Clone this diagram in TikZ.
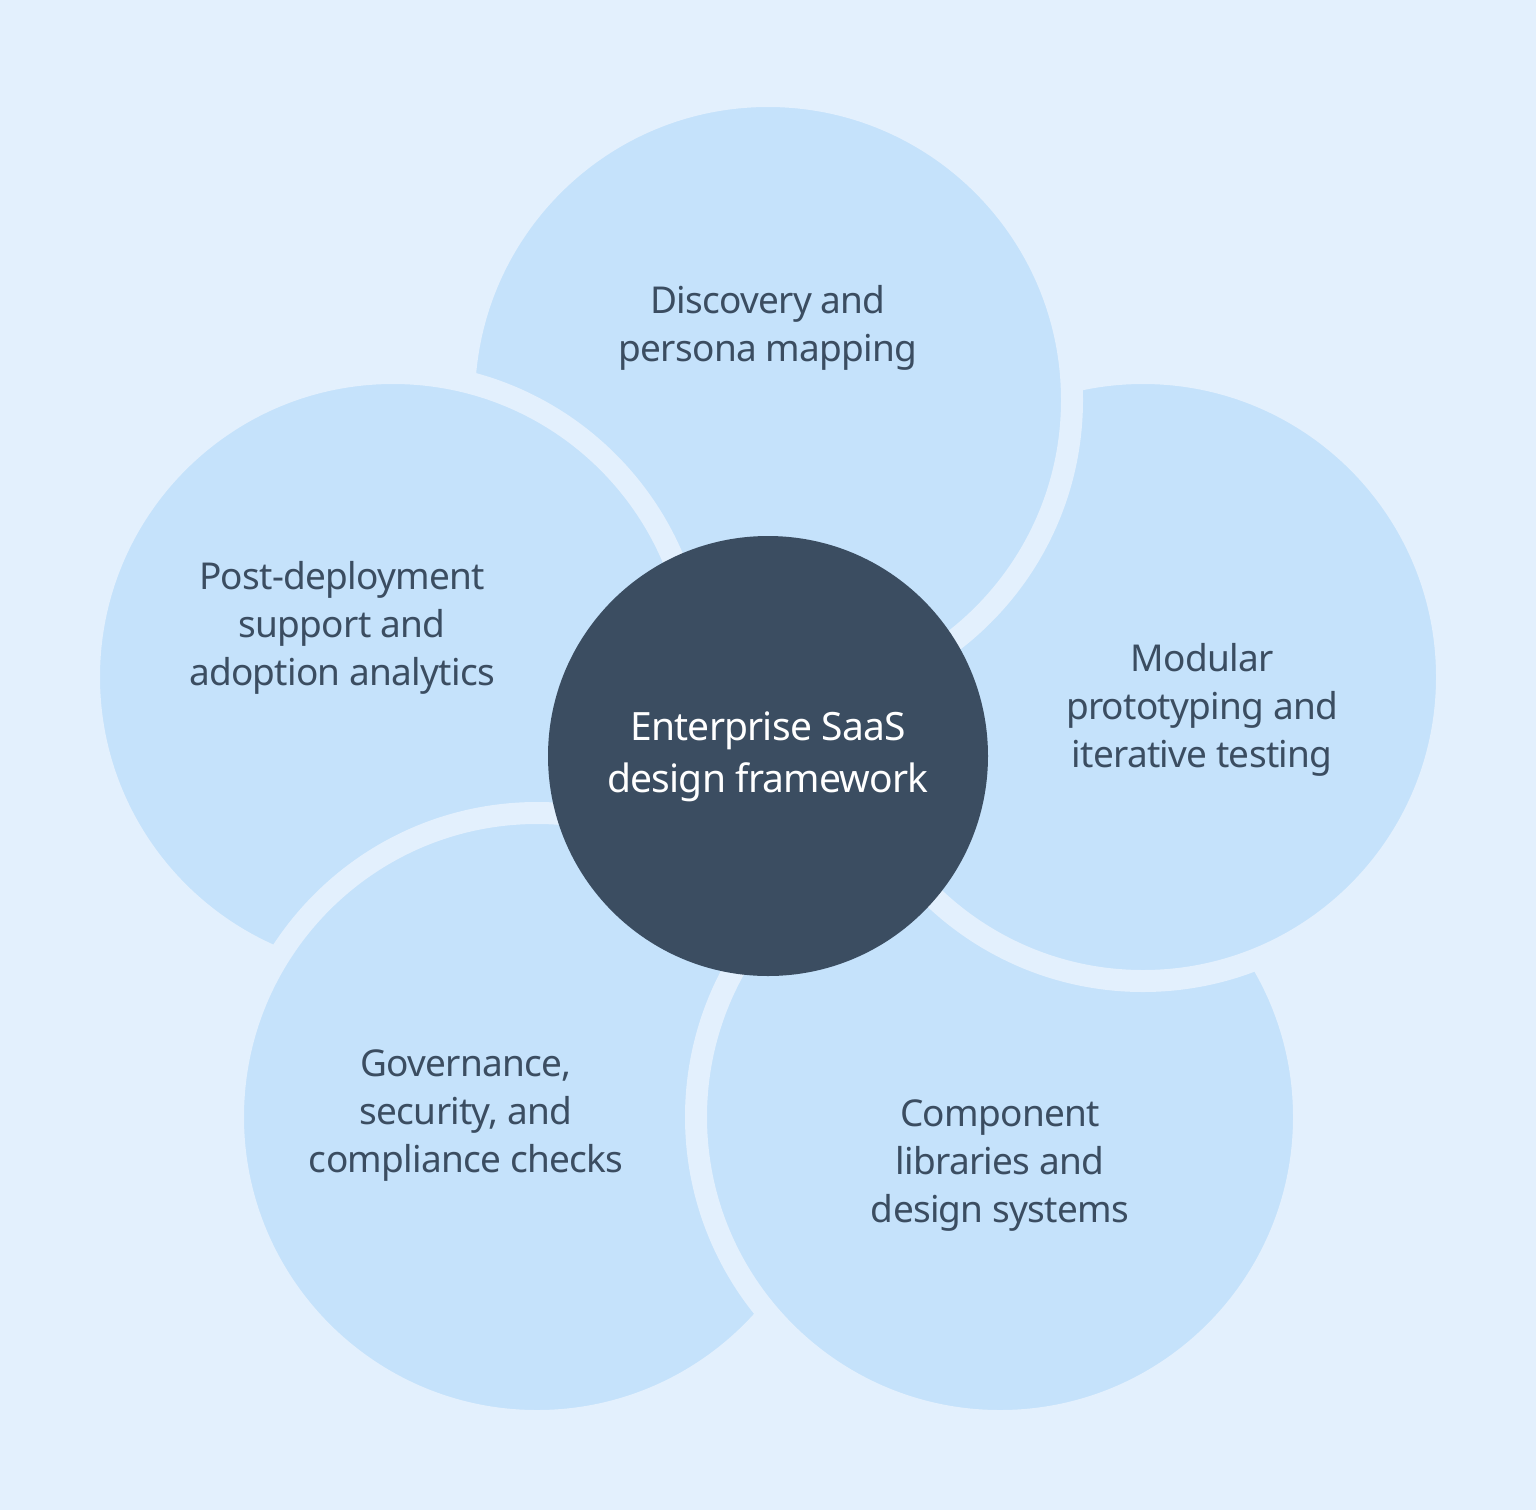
\documentclass[tikz,border=0pt]{standalone}
\usepackage{fontspec}
\setmainfont{Noto Sans}
\definecolor{bg}{HTML}{E3F0FD}
\definecolor{pet}{HTML}{C5E2FB}
\definecolor{dark}{HTML}{3B4D61}
\begin{document}
\begin{tikzpicture}[x=1pt,y=-1pt,
  petal/.style={fill=pet,draw=bg,line width=22},
  lbl/.style={text=dark,align=center,font=\fontsize{37}{48}\selectfont\addfontfeature{LetterSpace=-2}}]
\fill[bg] (0,0) rectangle (1536,1510);
\useasboundingbox (0,0) rectangle (1536,1510);
\path[petal] (768,400) circle (304);
\path[petal] (393,677) circle (304);
\path[petal] (537,1117) circle (304);
\path[petal] (1000,1117) circle (304);
\path[petal] (1143,677) circle (304);
\begin{scope}
\clip (722,0) rectangle (1536,760);
\path[petal] (768,400) circle (304);
\end{scope}
\fill[dark] (768,756) circle (220);
\node[lbl] (t) at (768,328) {Discovery and\\persona mapping};
\node[lbl] (r) at (1202,710) {Modular\\prototyping and\\iterative testing};
\node[lbl] (br) at (1000,1166) {Component\\libraries and\\design systems};
\node[lbl] (bl) at (466,1116) {Governance,\\security, and\\compliance checks};
\node[lbl] (l) at (342,628) {Post-deployment\\support and\\adoption analytics};
\node[lbl,text=white,font=\fontsize{39}{52}\selectfont\addfontfeature{LetterSpace=-2}] (c) at (768,757) {Enterprise SaaS\\design framework};
\end{tikzpicture}
\end{document}
